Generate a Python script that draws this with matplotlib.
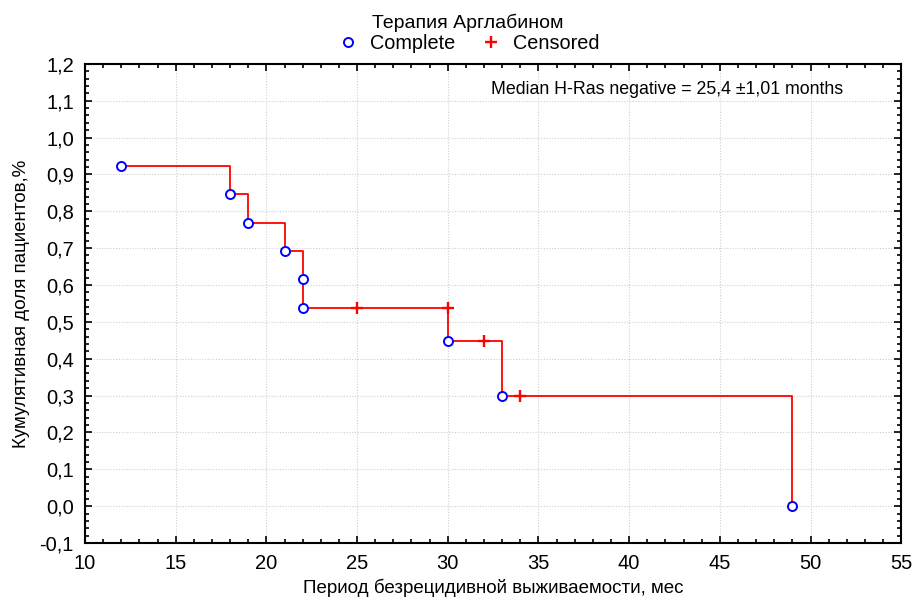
import matplotlib
matplotlib.use("Agg")
import matplotlib.pyplot as plt
from matplotlib.ticker import MultipleLocator, FuncFormatter
from matplotlib.lines import Line2D

plt.rcParams['font.family'] = ['Liberation Sans', 'DejaVu Sans']

# Kaplan-Meier: события (полные) и цензурированные наблюдения
complete_t = [12, 18, 19, 21, 22, 22, 30, 33, 49]
complete_s = [0.923, 0.846, 0.769, 0.692, 0.615, 0.538, 0.449, 0.299, 0.0]
censored_t = [25, 30, 32, 34]
censored_s = [0.538, 0.538, 0.449, 0.299]

fig = plt.figure(figsize=(9.14, 6.02), dpi=100)
ax = fig.add_axes([0.093, 0.098, 0.893, 0.796])

# ступенчатая кривая
xs, ys = [complete_t[0]], [complete_s[0]]
for t, s in zip(complete_t[1:], complete_s[1:]):
    xs += [t, t]
    ys += [ys[-1], s]
ax.plot(xs, ys, color='red', lw=1.3, zorder=2)

ax.plot(complete_t, complete_s, 'o', ms=6.5, mfc='white', mec='blue', mew=1.4,
        ls='none', zorder=3)
ax.plot(censored_t, censored_s, '+', ms=9, color='red', mew=1.7, ls='none', zorder=3)

ax.set_xlim(10, 55)
ax.set_ylim(-0.1, 1.2)
ax.xaxis.set_major_locator(MultipleLocator(5))
ax.xaxis.set_minor_locator(MultipleLocator(1))
ax.yaxis.set_major_locator(MultipleLocator(0.1))
ax.yaxis.set_minor_locator(MultipleLocator(0.02))
ax.yaxis.set_major_formatter(FuncFormatter(lambda v, p: f"{v:.1f}".replace('.', ',').replace('-0,0', '0,0')))

ax.tick_params(which='both', direction='in', top=True, right=True, labelsize=14.5,
               colors='black', width=1.2)
ax.tick_params(which='major', length=5)
ax.tick_params(which='minor', length=3)
ax.tick_params(axis='y', pad=8)
ax.tick_params(axis='x', pad=8)
for sp in ax.spines.values():
    sp.set_linewidth(1.5)

ax.grid(True, which='major', ls=(0, (1, 1.5)), color='#d0d0d0', lw=0.8)
ax.set_axisbelow(True)

ax.set_xlabel('Период безрецидивной выживаемости, мес', fontsize=13.5, labelpad=4)
ax.set_ylabel('Кумулятивная доля пациентов,%', fontsize=13.5, labelpad=7)

ax.text(0.497, 0.946, 'Median H-Ras negative = 25,4 \u00b11,01 months',
        transform=ax.transAxes, fontsize=12.8, va='center', ha='left')

handles = [
    Line2D([], [], marker='o', ls='none', ms=6.5, mfc='white', mec='blue', mew=1.4),
    Line2D([], [], marker='+', ls='none', ms=9, color='red', mew=1.7),
]
fig.legend(handles, ['Complete', 'Censored'], title='Терапия Арглабином',
           loc='upper center', bbox_to_anchor=(0.512, 1.0), ncol=2, frameon=False,
           fontsize=14.3, title_fontsize=14, handletextpad=0.5, columnspacing=1.2,
           handlelength=1.2, borderaxespad=0.3, labelspacing=0.1)

fig.savefig('out.png', dpi=100, facecolor='white')
